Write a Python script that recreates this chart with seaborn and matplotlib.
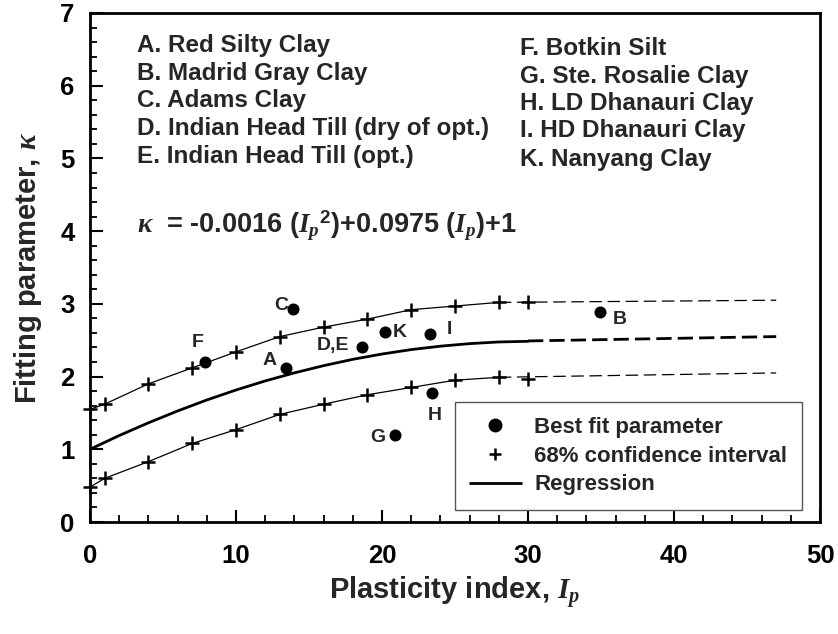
import matplotlib
matplotlib.use("Agg")
import matplotlib.pyplot as plt
from matplotlib.lines import Line2D
from matplotlib.ticker import MultipleLocator
import seaborn as sns

# ---------------- data ----------------
pts_label = ["A", "B", "C", "D,E", "F", "G", "H", "I", "K"]
pts_ip = [13.45, 34.9, 13.9, 18.6, 7.9, 20.9, 23.4, 23.3, 20.2]
pts_kappa = [2.12, 2.89, 2.93, 2.40, 2.20, 1.19, 1.78, 2.59, 2.61]

ci_ip = [0, 1, 4, 7, 10, 13, 16, 19, 22, 25, 28, 30]
ci_upper = [1.55, 1.62, 1.90, 2.12, 2.34, 2.55, 2.68, 2.79, 2.92, 2.97, 3.02, 3.02]
ci_lower = [0.48, 0.60, 0.83, 1.08, 1.27, 1.48, 1.62, 1.75, 1.85, 1.95, 1.99, 1.97]

ci_solid_ip = [0, 1, 4, 7, 10, 13, 16, 19, 22, 25, 28]
ci_solid_upper = [1.55, 1.62, 1.90, 2.12, 2.34, 2.55, 2.68, 2.79, 2.92, 2.97, 3.02]
ci_solid_lower = [0.48, 0.60, 0.83, 1.08, 1.27, 1.48, 1.62, 1.75, 1.85, 1.95, 1.99]
ci_dash_ip = [28, 47]
ci_dash_upper = [3.02, 3.05]
ci_dash_lower = [1.99, 2.05]

reg_ip = [0, 2, 4, 6, 8, 10, 12, 14, 16, 18, 20, 22, 24, 26, 28, 30]
reg_kappa = [1.0, 1.189, 1.364, 1.527, 1.678, 1.815, 1.940, 2.051, 2.150,
             2.237, 2.310, 2.371, 2.418, 2.453, 2.476, 2.485]
reg_dash_ip = [30, 47]
reg_dash_kappa = [2.49, 2.55]

legend_labels = ["Best fit parameter", "68% confidence interval", "Regression"]

soils_left = ["A. Red Silty Clay", "B. Madrid Gray Clay", "C. Adams Clay",
              "D. Indian Head Till (dry of opt.)", "E. Indian Head Till (opt.)"]
soils_right = ["F. Botkin Silt", "G. Ste. Rosalie Clay", "H. LD Dhanauri Clay",
               "I. HD Dhanauri Clay", "K. Nanyang Clay"]

# ---------------- style ----------------
sns.set_style("white")
plt.rcParams["font.family"] = ["Liberation Sans", "DejaVu Sans"]
plt.rcParams["font.weight"] = "bold"
plt.rcParams["mathtext.fontset"] = "custom"
plt.rcParams["mathtext.rm"] = "Liberation Sans:bold"
plt.rcParams["mathtext.bf"] = "Liberation Sans:bold"
plt.rcParams["mathtext.it"] = "Liberation Serif:italic:bold"
plt.rcParams["mathtext.default"] = "it"

fig = plt.figure(figsize=(8.38, 6.34), dpi=100)
ax = fig.add_axes([90 / 838, 1 - 522 / 634, 730 / 838, 509 / 634])

# CI lines
sns.lineplot(x=ci_solid_ip, y=ci_solid_upper, ax=ax, color="black", lw=0.9, sort=False)
sns.lineplot(x=ci_solid_ip, y=ci_solid_lower, ax=ax, color="black", lw=0.9, sort=False)
sns.lineplot(x=ci_dash_ip, y=ci_dash_upper, ax=ax, color="black", lw=0.9,
             linestyle=(0, (10, 4.5)))
sns.lineplot(x=ci_dash_ip, y=ci_dash_lower, ax=ax, color="black", lw=0.9,
             linestyle=(0, (10, 4.5)))
# regression
sns.lineplot(x=reg_ip, y=reg_kappa, ax=ax, color="black", lw=2.0, sort=False)
sns.lineplot(x=reg_dash_ip, y=reg_dash_kappa, ax=ax, color="black", lw=2.0,
             linestyle=(0, (5.5, 2.2)))

# CI crosses
for yy in (ci_upper, ci_lower):
    sns.scatterplot(x=ci_ip, y=yy, ax=ax, marker="+", color="black", s=90,
                    linewidth=1.8, clip_on=False, zorder=4)

# best-fit points
sns.scatterplot(x=pts_ip, y=pts_kappa, ax=ax, color="black", s=75,
                edgecolor="black", linewidth=0, zorder=5)

# point labels
label_pos = {"A": (12.33, 2.22), "B": (36.3, 2.79), "C": (13.13, 2.98),
             "D,E": (16.67, 2.43), "F": (7.35, 2.47), "G": (19.68, 1.16),
             "H": (23.63, 1.47), "I": (24.6, 2.65), "K": (21.23, 2.60)}
for lab in pts_label:
    x, y = label_pos[lab]
    ax.text(x, y, lab, ha="center", va="center", fontsize=14, fontweight="bold")

# soil lists
left_y = [6.465, 6.084, 5.703, 5.322, 4.941]
right_y = [6.42, 6.04, 5.67, 5.29, 4.90]
for t, y in zip(soils_left, left_y):
    ax.text(3.2, y, t, ha="left", va="baseline", fontsize=17.5, fontweight="bold")
for t, y in zip(soils_right, right_y):
    ax.text(29.45, y, t, ha="left", va="baseline", fontsize=17.5, fontweight="bold")

# equation
ax.text(3.2, 3.97,
        r"$\kappa$  = -0.0016 ($I_p{}^{\mathrm{2}}$)+0.0975 ($I_p$)+1",
        ha="left", va="baseline", fontsize=19.5, fontweight="bold")

# axes
ax.set_xlim(0, 50)
ax.set_ylim(0, 7)
ax.xaxis.set_major_locator(MultipleLocator(10))
ax.xaxis.set_minor_locator(MultipleLocator(2))
ax.yaxis.set_major_locator(MultipleLocator(1))
ax.yaxis.set_minor_locator(MultipleLocator(0.2))
ax.tick_params(which="both", direction="in", top=False, right=False,
               bottom=True, left=True, colors="black")
ax.tick_params(which="major", length=9, width=1.5, labelsize=18.5, pad=16)
ax.tick_params(axis="y", which="major", pad=11)
ax.tick_params(which="minor", length=5, width=1.3)
for lbl in ax.get_xticklabels() + ax.get_yticklabels():
    lbl.set_fontweight("bold")
for sp in ax.spines.values():
    sp.set_visible(True)
    sp.set_linewidth(2.0)
    sp.set_color("black")

ax.set_xlabel(r"Plasticity index, $I_p$", fontsize=21, fontweight="bold", labelpad=5)
ax.set_ylabel(r"Fitting parameter, $\kappa$", fontsize=21, fontweight="bold", labelpad=12)

# legend
handles = [
    Line2D([], [], color="black", marker="o", linestyle="none", markersize=9),
    Line2D([], [], color="black", marker="+", linestyle="none", markersize=9, mew=1.8),
    Line2D([], [], color="black", lw=2.0),
]
leg = ax.legend(handles, legend_labels, loc="lower right",
                bbox_to_anchor=(0.975, 0.024), frameon=True, fancybox=False,
                prop={"family": "Liberation Sans", "weight": "bold", "size": 16},
                handlelength=2.3, handletextpad=0.6, labelspacing=0.35,
                borderpad=0.65, borderaxespad=0)
leg.get_frame().set_edgecolor("#555555")
leg.get_frame().set_linewidth(1.0)
leg.get_frame().set_alpha(1)

fig.savefig("out.png", dpi=100)
